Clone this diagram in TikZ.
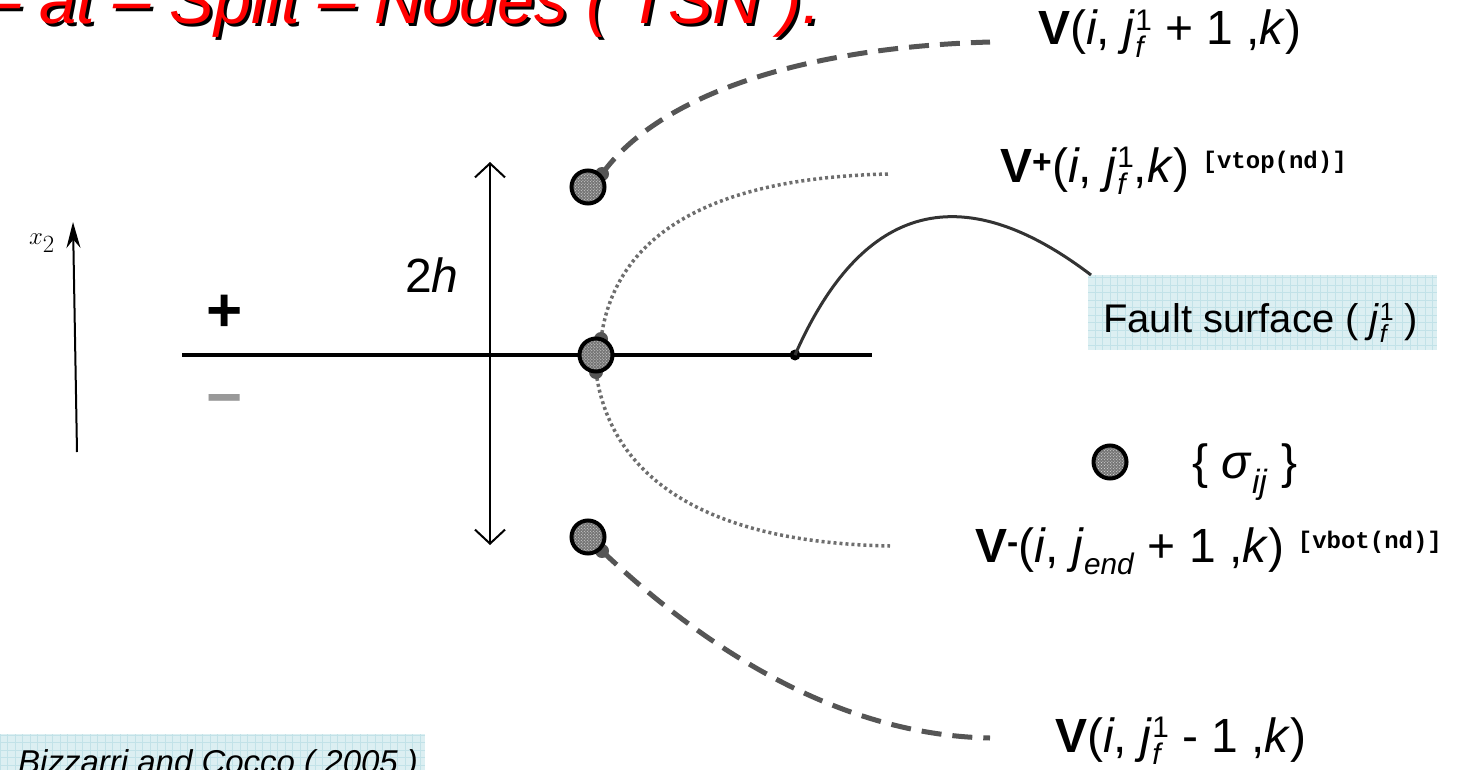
\documentclass[tikz,border=0pt]{standalone}
\usepackage[no-math]{fontspec}
\setmainfont{Liberation Sans}
\newfontfamily\monofnt{Liberation Mono}
\usetikzlibrary{arrows.meta,patterns}
\pgfdeclarelayer{bg}
\pgfsetlayers{bg,main}
\definecolor{dotgray}{HTML}{555555}
\definecolor{faultgray}{HTML}{333333}
\definecolor{nodegray}{HTML}{767676}
\definecolor{boxcyan}{HTML}{DCEFF2}
\definecolor{gridcyan}{HTML}{C2E2E8}
\definecolor{titlered}{HTML}{FF0000}
\definecolor{minusgray}{HTML}{999999}
% stacked sub- and superscript, sizes relative to the current font
\newcommand\jsubsup[2]{\rlap{\raisebox{-0.26em}{\fontsize{0.62em}{0.62em}\selectfont #1}}\raisebox{0.3em}{\fontsize{0.62em}{0.62em}\selectfont #2}}
\newcommand\jsub[1]{\raisebox{-0.26em}{\fontsize{0.62em}{0.62em}\selectfont #1}}
\newcommand\smallcode[1]{\raisebox{14bp}{\monofnt\bfseries\fontsize{24bp}{28bp}\selectfont #1}}
\begin{document}
\begin{tikzpicture}[x=1bp,y=-1bp,
  lbl/.style={font=\fontsize{48bp}{56bp}\selectfont, inner sep=0, anchor=base west},
  splitnode/.style={circle, draw=black, line width=4bp, preaction={fill=nodegray}, pattern=crosshatch dots, pattern color=gray!25, minimum size=33bp, inner sep=0},
  smalldot/.style={circle, fill=dotgray, minimum size=14bp, inner sep=0},
  faultdot/.style={circle, fill=black, minimum size=11bp, inner sep=0},
  dashcurve/.style={draw=dotgray, line width=5bp, dash pattern=on 20bp off 11bp},
  dotcurve/.style={draw=dotgray!85, line width=3.5bp, dash pattern=on 3bp off 3bp},
  gridbox/.style={fill=boxcyan, inner sep=0, path picture={\draw[gridcyan, line width=0.7bp] (path picture bounding box.south west) grid[step=7.5bp] (path picture bounding box.north east);}},
  titletext/.style={font=\fontsize{67bp}{75bp}\selectfont\itshape, inner sep=0, anchor=base west},
]
\useasboundingbox (0,0) rectangle (1461,769);

% title (cut at top)
\node[titletext, text=black] (titleshadow) at (-14,27) {– at – Split – Nodes ( TSN ).};
\node[titletext, text=titlered] (title) at (-17,24) {– at – Split – Nodes ( TSN ).};

% x2 axis
\coordinate (xa) at (77,452);
\coordinate (xb) at (73,222);
\draw[line width=2bp, -{Stealth[length=26bp,width=14bp]}] (xa) -- (xb);
\node[font=\fontsize{34bp}{38bp}\selectfont, inner sep=0] (x2lab) at (42,243) {$x_2$};

% signs
\node[font=\fontsize{62bp}{70bp}\selectfont\bfseries, inner sep=0] (plus) at (225,313) {+};
\node[font=\fontsize{62bp}{70bp}\selectfont\bfseries, text=minusgray, inner sep=0] (minus) at (225,406) {−};

% 2h
\node[lbl] (twoh) at (405,292) {2\textit{h}};

% main lines
\coordinate (hl) at (182,355);
\coordinate (hr) at (872,355);
\draw[line width=4bp] (hl) -- (hr);
\coordinate (vt) at (490,162);
\coordinate (vb) at (490,545);
\draw[line width=2bp, {Straight Barb[length=14bp,width=30bp]}-{Straight Barb[length=14bp,width=30bp]}] (vt) -- (vb);

% small gray dots
\node[smalldot] (d1) at (602,174) {};
\node[smalldot] (d2a) at (601,339) {};
\node[smalldot] (d2b) at (596,372) {};
\node[smalldot] (d3) at (602,551) {};

% split nodes
\node[splitnode] (n1) at (588,187) {};
\node[splitnode] (n2) at (596,355) {};
\node[splitnode] (n3) at (588,537) {};

% fault dot
\node[faultdot] (fd) at (795,355) {};

% label ends
\coordinate (e1) at (990,42);
\coordinate (e2) at (890,174);
\coordinate (e3) at (890,546);
\coordinate (e4) at (990,738);
\coordinate (e5) at (1091,275);

% fault surface box
\path[gridbox] (1088,275) rectangle (1437,350);
\node[lbl, font=\fontsize{40bp}{46bp}\selectfont] (fault) at (1103,332) {Fault surface ( \textit{j}\jsubsup{\textit{f}}{1} )};

% curves
\begin{pgfonlayer}{bg}
\draw[dashcurve] (d1.center) .. controls (655,100) and (790,48) .. (e1);
\draw[dotcurve] (d2a.center) .. controls (612,255) and (680,178) .. (e2);
\draw[dotcurve] (d2b.center) .. controls (608,460) and (680,542) .. (e3);
\draw[dashcurve] (d3.center) .. controls (680,625) and (820,735) .. (e4);
\end{pgfonlayer}
\draw[faultgray, line width=3bp] (fd.center) .. controls (850,230) and (940,160) .. (e5);

% labels
\node[lbl] (vtop) at (1038,45) {\textbf{V}(\textit{i}, \textit{j}\jsubsup{\textit{f}}{1} + 1 ,\textit{k})};
\node[lbl] (vplus) at (1000,182) {\textbf{V}\textsuperscript{\textbf{+}}(\textit{i}, \textit{j}\jsubsup{\textit{f}}{1},\textit{k}) \smallcode{[vtop(nd)]}};
\node[lbl] (vminus) at (975,562) {\textbf{V}\textsuperscript{\textbf{-}}(\textit{i}, \textit{j}\jsub{\textit{end}} + 1 ,\textit{k}) \smallcode{[vbot(nd)]}};
\node[lbl] (vbot) at (1055,752) {\textbf{V}(\textit{i}, \textit{j}\jsubsup{\textit{f}}{1} - 1 ,\textit{k})};

% legend
\node[splitnode] (ln) at (1110,462) {};
\node[lbl] (sigma) at (1192,478) {\{ \textit{σ}\textsubscript{\textit{ij}} \}};

% citation box
\path[gridbox] (0,734) rectangle (425,790);
\node[lbl, font=\fontsize{33bp}{40bp}\selectfont\itshape] (cite) at (18,773) {Bizzarri and Cocco ( 2005 )};
\end{tikzpicture}
\end{document}
